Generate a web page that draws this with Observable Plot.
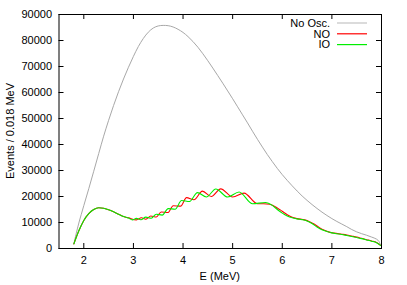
<!DOCTYPE html>
<html><head><meta charset="utf-8">
<script src="https://cdn.jsdelivr.net/npm/d3@7"></script>
<script src="https://cdn.jsdelivr.net/npm/@observablehq/plot@0.6"></script>
<style>
html,body{margin:0;padding:0;background:#fff;}
svg{font-family:"Liberation Sans",Arial,sans-serif;}
</style></head>
<body><div id="chart"></div>
<script>
// ---- data ----
const seriesNames = ["No Osc.", "NO", "IO"];
const seriesColors = ["#a8a8a8", "#ff0000", "#00ee00"];

const noOscE = [1.80,1.85,1.90,2.0,2.1,2.2,2.3,2.4,2.5,2.6,2.7,2.8,2.9,3.0,3.1,3.2,3.3,3.4,3.5,3.6,3.7,3.8,3.9,4.0,4.1,4.2,4.3,4.4,4.5,4.6,4.7,4.8,4.9,5.0,5.1,5.2,5.3,5.4,5.5,5.6,5.7,5.8,5.9,6.0,6.1,6.2,6.3,6.4,6.5,6.6,6.7,6.8,6.9,7.0,7.1,7.2,7.3,7.4,7.5,7.6,7.7,7.8,7.9,7.95,7.98];
const noOscV = [1800,6000,9800,16500,23000,29700,36500,43200,49300,55000,60300,65200,69700,73900,77700,80800,83200,84800,85600,85800,85700,85200,84300,83100,81500,79600,77400,74900,72200,69400,66500,63600,60600,57600,54500,51400,48300,45100,42000,39000,36100,33400,30800,28400,26200,24100,22100,20200,18500,16900,15400,14000,12700,11500,10400,9400,8400,7300,6400,5700,5100,4400,3600,2700,1200];

const noE = [1.80,1.90,2.0,2.1,2.2,2.3,2.4,2.5,2.6,2.7,2.8,2.9,3.06,3.16,3.25,3.35,3.46,3.56,3.70,3.80,3.95,4.07,4.22,4.39,4.57,4.76,5.00,5.23,5.50,5.62,5.75,5.9,6.0,6.1,6.2,6.3,6.45,6.55,6.65,6.75,6.85,6.95,7.05,7.2,7.3,7.4,7.5,7.6,7.7,7.8,7.9,7.98];
const noV = [1800,6800,10800,13400,15000,15650,15500,14900,14100,13200,12300,11800,11000,11800,11250,12500,12100,14050,13850,16450,16300,19550,18750,22050,20000,22950,19800,21300,17200,17200,17000,15600,14300,13000,12000,11500,11000,10300,9300,8000,7000,6300,5900,5500,5200,4800,4400,3900,3400,2900,2300,1200];

const ioE = [1.80,1.90,2.0,2.1,2.2,2.3,2.4,2.5,2.6,2.7,2.8,2.9,2.98,3.06,3.15,3.25,3.36,3.46,3.58,3.70,3.84,3.97,4.13,4.29,4.47,4.66,4.90,5.13,5.40,5.66,5.8,5.9,6.0,6.1,6.2,6.3,6.4,6.5,6.6,6.7,6.8,6.9,7.0,7.1,7.2,7.3,7.4,7.5,7.6,7.7,7.8,7.9,7.98];
const ioV = [1800,6800,10800,13400,15000,15650,15500,14900,14100,13200,12300,11700,11000,11600,11050,12050,11650,13200,12850,15350,15100,18450,18050,21500,19800,22900,19800,21750,17200,17700,16600,15000,13600,12500,11800,11400,11100,10600,9600,8300,7200,6500,6000,5700,5400,5000,4600,4200,3800,3300,2800,2200,1200];

const xTicks = [2,3,4,5,6,7,8];
const yTicks = [0,10000,20000,30000,40000,50000,60000,70000,80000,90000];
const xLabel = "E (MeV)";
const yLabel = "Events / 0.018 MeV";

// ---- build table ----
const rows = [];
noOscE.forEach((e,i)=>rows.push({E:e, V:noOscV[i], s:seriesNames[0]}));
noE.forEach((e,i)=>rows.push({E:e, V:noV[i], s:seriesNames[1]}));
ioE.forEach((e,i)=>rows.push({E:e, V:ioV[i], s:seriesNames[2]}));

const W = 407, H = 285, mL = 58.5, mR = 26, mT = 14, mB = 37;
const pw = W - mL - mR, ph = H - mT - mB, tk = 5;

const plot = Plot.plot({
  width: W, height: H,
  marginLeft: mL, marginRight: mR, marginTop: mT, marginBottom: mB,
  style: {fontFamily: '"Liberation Sans", Arial, sans-serif', fontSize: "11px", color: "#000", background: "#fff"},
  x: {domain: [1.5, 8]},
  y: {domain: [0, 90000]},
  color: {domain: seriesNames, range: seriesColors},
  marks: [
    Plot.axisX({ticks: xTicks, tickSize: 0, tickPadding: 8, tickFormat: d3.format("d"), label: null, fontSize: 11}),
    Plot.axisY({ticks: yTicks, tickSize: 0, tickPadding: 7, tickFormat: d3.format("d"), label: null, fontSize: 11}),
    Plot.ruleX(xTicks, {x: d=>d, insetTop: ph - tk, stroke: "#000"}),
    Plot.ruleX(xTicks, {x: d=>d, insetBottom: ph - tk, stroke: "#000"}),
    Plot.ruleY(yTicks, {y: d=>d, insetRight: pw - tk, stroke: "#000"}),
    Plot.ruleY(yTicks, {y: d=>d, insetLeft: pw - tk, stroke: "#000"}),
    Plot.line(rows.filter(d=>d.s===seriesNames[0]), {x:"E", y:"V", stroke:"s", strokeWidth: 1, curve: "catmull-rom"}),
    Plot.line(rows.filter(d=>d.s===seriesNames[1]), {x:"E", y:"V", stroke:"s", strokeWidth: 1.1, curve: "monotone-x"}),
    Plot.line(rows.filter(d=>d.s===seriesNames[2]), {x:"E", y:"V", stroke:"s", strokeWidth: 1.1, curve: "monotone-x"}),
    Plot.frame({stroke: "#000", strokeWidth: 1})
  ]
});

const svg = d3.select(plot);
// axis titles
svg.append("text").attr("x", mL + pw/2).attr("y", 280).attr("text-anchor","middle")
  .attr("font-size", 11).attr("fill","#000").text(xLabel);
svg.append("text").attr("transform", `translate(14,${mT + ph/2}) rotate(-90)`).attr("text-anchor","middle")
  .attr("font-size", 11).attr("fill","#000").text(yLabel);
// legend
const lg = svg.append("g");
seriesNames.forEach((n,i)=>{
  const y = 23 + i*10.8;
  lg.append("text").attr("x", 330).attr("y", y).attr("dy","0.35em").attr("text-anchor","end")
    .attr("font-size", 11).attr("fill","#000").text(n);
  lg.append("line").attr("x1", 337).attr("x2", 367).attr("y1", y).attr("y2", y)
    .attr("stroke", i === 0 ? "#c4c4c4" : seriesColors[i]).attr("stroke-width", 1.2);
});
document.getElementById("chart").appendChild(plot);
</script>
</body></html>
